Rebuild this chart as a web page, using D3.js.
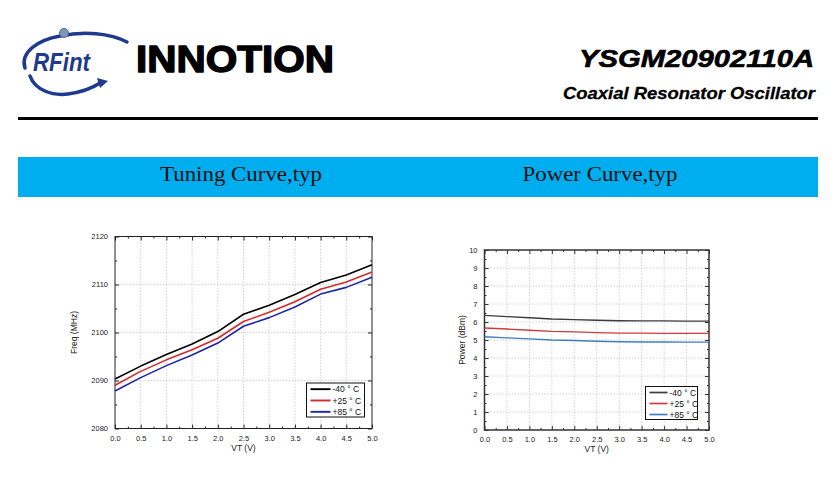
<!DOCTYPE html>
<html>
<head>
<meta charset="utf-8">
<script src="https://cdn.jsdelivr.net/npm/d3@7"></script>
<style>
html,body{margin:0;padding:0;background:#fff;}
svg{display:block;}
text{font-family:"Liberation Sans",Arial,sans-serif;}
</style>
</head>
<body>
<svg id="chart" width="836" height="482"></svg>
<script>
// ---------- data ----------
const vt = [0, 0.5, 1.0, 1.5, 2.0, 2.5, 3.0, 3.5, 4.0, 4.5, 5.0];
const seriesNames = ["-40 ° C", "+25 ° C", "+85 ° C"];
const freqM40 = [2090.3, 2093.0, 2095.4, 2097.6, 2100.2, 2103.8, 2105.7, 2107.9, 2110.4, 2112.0, 2114.1];
const freqP25 = [2089.0, 2091.9, 2094.3, 2096.4, 2098.8, 2102.3, 2104.2, 2106.4, 2109.0, 2110.5, 2112.6];
const freqP85 = [2087.8, 2090.6, 2093.1, 2095.3, 2097.8, 2101.3, 2103.1, 2105.3, 2108.0, 2109.4, 2111.5];
const powM40 = [6.37, 6.30, 6.24, 6.17, 6.13, 6.10, 6.07, 6.06, 6.06, 6.05, 6.05];
const powP25 = [5.67, 5.61, 5.54, 5.48, 5.45, 5.41, 5.38, 5.38, 5.37, 5.37, 5.37];
const powP85 = [5.18, 5.12, 5.06, 5.00, 4.97, 4.93, 4.90, 4.89, 4.89, 4.88, 4.88];
const xTicks = [0, 0.5, 1.0, 1.5, 2.0, 2.5, 3.0, 3.5, 4.0, 4.5, 5.0];
const freqTicks = [2080, 2090, 2100, 2110, 2120];
const powTicks = [0, 1, 2, 3, 4, 5, 6, 7, 8, 9, 10];

const svg = d3.select("#chart");

// ---------- header ----------
const logoBlue = "#1e3a8c";
const hdr = svg.append("g");
hdr.append("path")
  .attr("d", "M25,68 C20,52 38,40 60,36 C84,31 110,33 127,42")
  .attr("fill", "none").attr("stroke", logoBlue).attr("stroke-width", 3.5).attr("stroke-linecap", "round");
hdr.append("path")
  .attr("d", "M30,76 C35,90 52,96 68,94 C82,92 94,87 100,83")
  .attr("fill", "none").attr("stroke", logoBlue).attr("stroke-width", 3.5).attr("stroke-linecap", "round");
hdr.append("path")
  .attr("d", "M97,78 L108,81 L100,88 Z")
  .attr("fill", logoBlue);
hdr.append("circle").attr("cx", 64).attr("cy", 33).attr("r", 4.5)
  .attr("fill", "#7d97b8").attr("stroke", "#4a6a95").attr("stroke-width", 1);
hdr.append("text").attr("x", 33).attr("y", 71)
  .attr("font-size", 25).attr("font-style", "italic").attr("font-weight", "bold")
  .attr("fill", logoBlue).attr("textLength", 57).attr("lengthAdjust", "spacingAndGlyphs")
  .text("RFint");
hdr.append("text").attr("x", 136).attr("y", 72)
  .attr("font-size", 37).attr("font-weight", "900").attr("fill", "#000")
  .attr("stroke", "#000").attr("stroke-width", 1.4).attr("stroke-linejoin", "round")
  .attr("textLength", 198).attr("lengthAdjust", "spacingAndGlyphs")
  .text("INNOTION");
hdr.append("text").attr("x", 814).attr("y", 67).attr("text-anchor", "end")
  .attr("font-size", 24).attr("font-weight", "bold").attr("font-style", "italic").attr("fill", "#000")
  .attr("stroke", "#000").attr("stroke-width", 0.6)
  .attr("textLength", 235).attr("lengthAdjust", "spacingAndGlyphs")
  .text("YSGM20902110A");
hdr.append("text").attr("x", 815).attr("y", 99).attr("text-anchor", "end")
  .attr("font-size", 17).attr("font-weight", "bold").attr("font-style", "italic").attr("fill", "#000")
  .attr("stroke", "#000").attr("stroke-width", 0.3)
  .attr("textLength", 252).attr("lengthAdjust", "spacingAndGlyphs")
  .text("Coaxial  Resonator  Oscillator");
hdr.append("rect").attr("x", 18).attr("y", 117).attr("width", 800).attr("height", 3).attr("fill", "#000");

// blue band
svg.append("rect").attr("x", 18).attr("y", 157).attr("width", 800).attr("height", 40).attr("fill", "#00aeef");
svg.append("text").attr("x", 241).attr("y", 181).attr("text-anchor", "middle")
  .attr("font-size", 21).attr("fill", "#111")
  .attr("textLength", 162).attr("lengthAdjust", "spacingAndGlyphs")
  .style("font-family", "'Liberation Serif','Times New Roman',serif")
  .text("Tuning Curve,typ");
svg.append("text").attr("x", 600).attr("y", 181).attr("text-anchor", "middle")
  .attr("font-size", 21).attr("fill", "#111")
  .attr("textLength", 155).attr("lengthAdjust", "spacingAndGlyphs")
  .style("font-family", "'Liberation Serif','Times New Roman',serif")
  .text("Power Curve,typ");

// ---------- chart helper ----------
function drawChart(opt) {
  const x = d3.scaleLinear().domain([0, 5]).range([opt.x0, opt.x1]);
  const y = d3.scaleLinear().domain(opt.yDomain).range([opt.y1, opt.y0]);
  const g = svg.append("g");

  g.append("g").selectAll("line").data(xTicks.slice(1, -1)).join("line")
    .attr("x1", d => x(d)).attr("x2", d => x(d)).attr("y1", opt.y0).attr("y2", opt.y1)
    .attr("stroke", "#c8c8c8").attr("stroke-width", 0.8).attr("stroke-dasharray", "1.5,1.5");
  g.append("g").selectAll("line").data(opt.yTicks.slice(1, -1)).join("line")
    .attr("y1", d => y(d)).attr("y2", d => y(d)).attr("x1", opt.x0).attr("x2", opt.x1)
    .attr("stroke", "#c8c8c8").attr("stroke-width", 0.8).attr("stroke-dasharray", "1.5,1.5");

  const xMinor = xTicks.slice(0, -1).map(d => d + 0.25);
  const ys = opt.yTicks;
  const yMinor = ys.slice(0, -1).map((d, i) => (d + ys[i + 1]) / 2);

  const fmtX = d3.format(".1f");
  const tickStyle = sel => {
    sel.select(".domain").remove();
    sel.selectAll(".tick line").attr("stroke", opt.axisColor).attr("stroke-width", 1);
    sel.selectAll(".tick text").attr("font-size", 7.5).attr("fill", "#222")
      .attr("font-family", "'Liberation Sans',Arial,sans-serif");
  };
  const T = 4, t = 2;
  g.append("g").attr("transform", `translate(0,${opt.y1})`)
    .call(d3.axisBottom(x).tickValues(xTicks).tickFormat(fmtX).tickSizeInner(-T).tickSizeOuter(0).tickPadding(T + 3))
    .call(tickStyle);
  g.append("g").attr("transform", `translate(0,${opt.y1})`)
    .call(d3.axisBottom(x).tickValues(xMinor).tickFormat("").tickSizeInner(-t).tickSizeOuter(0))
    .call(tickStyle);
  g.append("g").attr("transform", `translate(0,${opt.y0})`)
    .call(d3.axisTop(x).tickValues(xTicks).tickFormat("").tickSizeInner(-T).tickSizeOuter(0))
    .call(tickStyle);
  g.append("g").attr("transform", `translate(0,${opt.y0})`)
    .call(d3.axisTop(x).tickValues(xMinor).tickFormat("").tickSizeInner(-t).tickSizeOuter(0))
    .call(tickStyle);
  g.append("g").attr("transform", `translate(${opt.x0},0)`)
    .call(d3.axisLeft(y).tickValues(opt.yTicks).tickFormat(d3.format("d")).tickSizeInner(-T).tickSizeOuter(0).tickPadding(T + 3))
    .call(tickStyle);
  g.append("g").attr("transform", `translate(${opt.x0},0)`)
    .call(d3.axisLeft(y).tickValues(yMinor).tickFormat("").tickSizeInner(-t).tickSizeOuter(0))
    .call(tickStyle);
  g.append("g").attr("transform", `translate(${opt.x1},0)`)
    .call(d3.axisRight(y).tickValues(opt.yTicks).tickFormat("").tickSizeInner(-T).tickSizeOuter(0))
    .call(tickStyle);
  g.append("g").attr("transform", `translate(${opt.x1},0)`)
    .call(d3.axisRight(y).tickValues(yMinor).tickFormat("").tickSizeInner(-t).tickSizeOuter(0))
    .call(tickStyle);

  g.append("rect").attr("x", opt.x0).attr("y", opt.y0)
    .attr("width", opt.x1 - opt.x0).attr("height", opt.y1 - opt.y0)
    .attr("fill", "none").attr("stroke", opt.axisColor).attr("stroke-width", opt.frameWidth);

  const line = d3.line().x((d, i) => x(vt[i])).y(d => y(d));
  opt.series.forEach((s, k) => {
    g.append("path").datum(s).attr("d", line)
      .attr("fill", "none").attr("stroke", opt.colors[k]).attr("stroke-width", opt.lineWidth)
      .attr("stroke-linejoin", "round");
  });

  g.append("text").attr("x", (opt.x0 + opt.x1) / 2).attr("y", opt.y1 + 22)
    .attr("text-anchor", "middle").attr("font-size", 8.5).attr("fill", "#222").text("VT (V)");
  g.append("text")
    .attr("transform", `translate(${opt.yTitleX},${(opt.y0 + opt.y1) / 2}) rotate(-90)`)
    .attr("text-anchor", "middle").attr("font-size", 8.5).attr("fill", "#222").text(opt.yTitle);

  const L = opt.legend;
  g.append("rect").attr("x", L.x).attr("y", L.y).attr("width", L.w).attr("height", L.h)
    .attr("fill", "#fff").attr("stroke", "#111").attr("stroke-width", 1);
  seriesNames.forEach((name, k) => {
    const cy = L.y + L.h * (k + 0.5) / 3 + 0.5;
    g.append("line").attr("x1", L.x + 4).attr("x2", L.x + 4 + L.lineLen).attr("y1", cy).attr("y2", cy)
      .attr("stroke", opt.colors[k]).attr("stroke-width", opt.lineWidth + 0.3);
    g.append("text").attr("x", L.x + 6 + L.lineLen).attr("y", cy + 3)
      .attr("font-size", 8.5).attr("fill", "#111").text(name);
  });
}

drawChart({
  x0: 115, x1: 372, y0: 236.5, y1: 428.5,
  yDomain: [2080, 2120], yTicks: freqTicks,
  series: [freqM40, freqP25, freqP85],
  colors: ["#000000", "#d42a2a", "#1c25a8"],
  lineWidth: 1.6, axisColor: "#222", frameWidth: 1,
  yTitle: "Freq (MHz)", yTitleX: 77,
  legend: { x: 306.5, y: 383, w: 58, h: 34, lineLen: 20 }
});

drawChart({
  x0: 484.5, x1: 709, y0: 250, y1: 430,
  yDomain: [0, 10], yTicks: powTicks,
  series: [powM40, powP25, powP85],
  colors: ["#3c3c3c", "#cf3b3b", "#3f7fc0"],
  lineWidth: 1.4, axisColor: "#333", frameWidth: 1.5,
  yTitle: "Power (dBm)", yTitleX: 465,
  legend: { x: 645.5, y: 386.5, w: 52, h: 33, lineLen: 18 }
});
</script>
</body>
</html>
